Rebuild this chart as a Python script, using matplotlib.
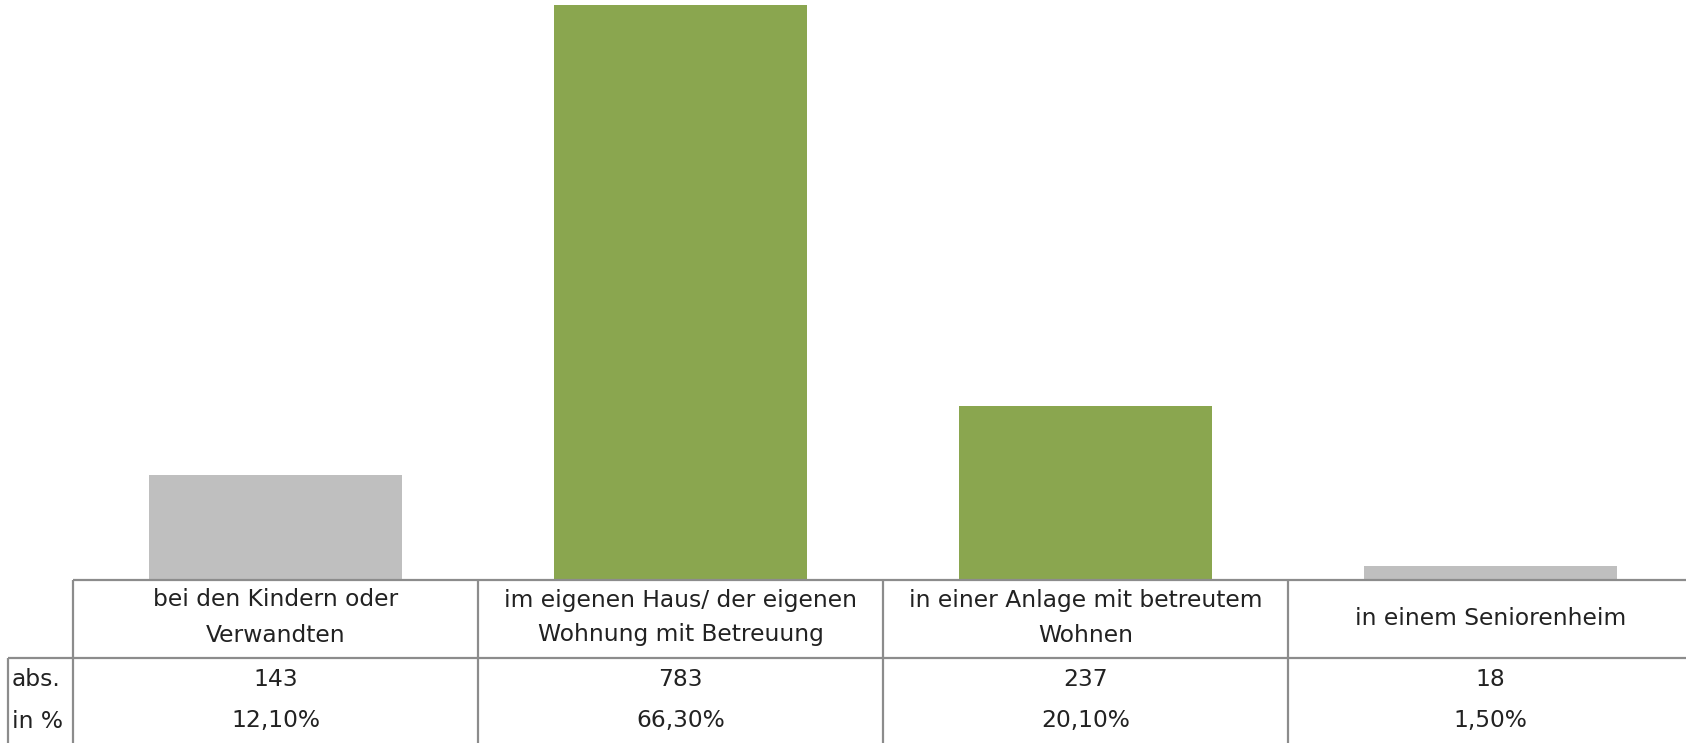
import matplotlib
matplotlib.use('Agg')
import matplotlib.pyplot as plt

plt.rcParams['font.family'] = ['DejaVu Sans']

categories = ['bei den Kindern oder\nVerwandten',
              'im eigenen Haus/ der eigenen\nWohnung mit Betreuung',
              'in einer Anlage mit betreutem\nWohnen',
              'in einem Seniorenheim']
abs_values = [143, 783, 237, 18]
pct_labels = ['12,10%', '66,30%', '20,10%', '1,50%']
row_names = ['abs.', 'in %']
bar_colors = ['#BFBFBF', '#8AA64F', '#8AA64F', '#BFBFBF']

W, H = 1686, 743
fig = plt.figure(figsize=(W / 100, H / 100), dpi=100)

# column geometry in pixels
left_px = 73
col_px = 405
axis_px = 579.5  # y of the category axis from the top
n = len(categories)

ax = fig.add_axes([left_px / W, (H - axis_px) / H, n * col_px / W, axis_px / H])
x = list(range(n))
ax.bar(x, abs_values, width=0.627, color=bar_colors)
ax.set_xlim(-0.5, n - 0.5)
ax.set_ylim(0, 790)
ax.axis('off')

# data table below the bars
tab = fig.add_axes([left_px / W, 0, n * col_px / W, (H - axis_px) / H])
tab.set_xlim(-0.5, n - 0.5)
tab.set_ylim(H - axis_px, 0)
tab.axis('off')

line_kw = dict(color='#8C8C8C', lw=1.6, clip_on=False, solid_capstyle='butt')
box_left = (8 - left_px) / col_px - 0.5
head_bottom = 78.2

tab.plot([-0.5, n - 0.5], [0, 0], **line_kw)
tab.plot([box_left, n - 0.5], [head_bottom, head_bottom], **line_kw)
tab.plot([box_left, box_left], [head_bottom, H - axis_px], **line_kw)
for i in range(n + 1):
    tab.plot([i - 0.5, i - 0.5], [0, H - axis_px], **line_kw)

fs = 16.8
txt = '#222222'
for i, cat in enumerate(categories):
    lines = cat.split('\n')
    if len(lines) == 2:
        tab.text(i, 20.5, lines[0], ha='center', va='center', fontsize=fs, color=txt)
        tab.text(i, 55.5, lines[1], ha='center', va='center', fontsize=fs, color=txt)
    else:
        tab.text(i, 39, cat, ha='center', va='center', fontsize=fs, color=txt)
    tab.text(i, 100.5, str(abs_values[i]), ha='center', va='center', fontsize=fs, color=txt)
    tab.text(i, 141.5, pct_labels[i], ha='center', va='center', fontsize=fs, color=txt)

name_x = (12 - left_px) / col_px - 0.5
tab.text(name_x, 100.5, row_names[0], ha='left', va='center', fontsize=fs, color=txt)
tab.text(name_x, 141.5, row_names[1], ha='left', va='center', fontsize=fs, color=txt)

fig.savefig('out.png', dpi=100)
